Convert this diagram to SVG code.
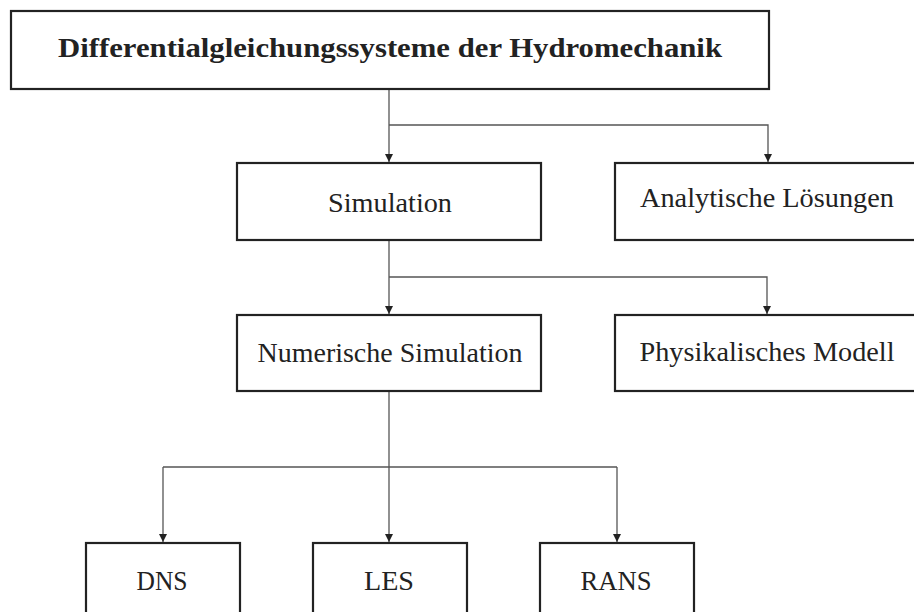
<svg xmlns="http://www.w3.org/2000/svg" width="914" height="612" viewBox="0 0 914 612">
<style>
.box{fill:#fff;stroke:#222;stroke-width:2.2}
.lbl{font-family:"Liberation Serif","DejaVu Serif",serif;font-size:27px;fill:#222;text-anchor:middle}
.bold{font-weight:bold}
.con{fill:none;stroke:#555;stroke-width:1.3}
</style>
<defs>
<marker id="arr" viewBox="0 0 10 10" refX="10" refY="5" markerWidth="9" markerHeight="8" markerUnits="userSpaceOnUse" orient="auto">
<path d="M0,0 L10,5 L0,10 z" fill="#222"/>
</marker>
</defs>
<rect width="914" height="612" fill="#fff"/>
<g id="connectors">
<path class="con" d="M389,89 V162" marker-end="url(#arr)"/>
<path class="con" d="M389,125 H768 V162" marker-end="url(#arr)"/>
<path class="con" d="M389,240 V314" marker-end="url(#arr)"/>
<path class="con" d="M389,277 H767 V314" marker-end="url(#arr)"/>
<path class="con" d="M389,391 V542" marker-end="url(#arr)"/>
<path class="con" d="M163,467 H617"/>
<path class="con" d="M163,467 V542" marker-end="url(#arr)"/>
<path class="con" d="M617,467 V542" marker-end="url(#arr)"/>
</g>
<g id="root">
<rect class="box" x="11" y="11" width="758" height="78"/>
<text class="lbl bold" x="390" y="57" textLength="664" lengthAdjust="spacingAndGlyphs">Differentialgleichungssysteme der Hydromechanik</text>
</g>
<g id="simulation">
<rect class="box" x="237" y="163" width="304" height="77"/>
<text class="lbl" x="390" y="212" textLength="124" lengthAdjust="spacingAndGlyphs">Simulation</text>
</g>
<g id="analytisch">
<rect class="box" x="615" y="163" width="302" height="77"/>
<text class="lbl" x="767" y="207" textLength="254" lengthAdjust="spacingAndGlyphs">Analytische Lösungen</text>
</g>
<g id="numerisch">
<rect class="box" x="237" y="315" width="304" height="76"/>
<text class="lbl" x="390" y="362" textLength="265" lengthAdjust="spacingAndGlyphs">Numerische Simulation</text>
</g>
<g id="physikalisch">
<rect class="box" x="615" y="315" width="302" height="76"/>
<text class="lbl" x="767" y="361" textLength="255" lengthAdjust="spacingAndGlyphs">Physikalisches Modell</text>
</g>
<g id="dns">
<rect class="box" x="86" y="543" width="154" height="80"/>
<text class="lbl" x="162" y="590" textLength="51" lengthAdjust="spacingAndGlyphs">DNS</text>
</g>
<g id="les">
<rect class="box" x="313" y="543" width="154" height="80"/>
<text class="lbl" x="389" y="590" textLength="50" lengthAdjust="spacingAndGlyphs">LES</text>
</g>
<g id="rans">
<rect class="box" x="540" y="543" width="154" height="80"/>
<text class="lbl" x="616" y="590" textLength="71" lengthAdjust="spacingAndGlyphs">RANS</text>
</g>
</svg>
